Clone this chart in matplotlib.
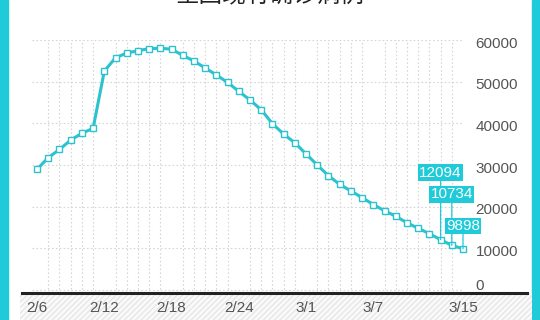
import matplotlib.pyplot as plt
import matplotlib.transforms as mtransforms
from matplotlib.patches import Rectangle
from matplotlib.lines import Line2D

plt.rcParams['font.family'] = ['Liberation Sans', 'Noto Sans CJK SC', 'DejaVu Sans']

# datos: casos existentes confirmados, 2/6 - 3/15
fechas = ["2/6", "2/7", "2/8", "2/9", "2/10", "2/11", "2/12", "2/13", "2/14", "2/15",
          "2/16", "2/17", "2/18", "2/19", "2/20", "2/21", "2/22", "2/23", "2/24", "2/25",
          "2/26", "2/27", "2/28", "2/29", "3/1", "3/2", "3/3", "3/4", "3/5", "3/6",
          "3/7", "3/8", "3/9", "3/10", "3/11", "3/12", "3/13", "3/14", "3/15"]
valores = [28985, 31774, 33738, 35982, 37626, 38800, 52526, 55748, 56873, 57416,
           57934, 58016, 57805, 56303, 54965, 53284, 51606, 49824, 47672, 45604,
           43258, 39919, 37414, 35329, 32652, 30004, 27433, 25352, 23784, 22177,
           20533, 19016, 17721, 16145, 14831, 13526, 12094, 10734, 9898]
etiquetas_x = ["2/6", "2/12", "2/18", "2/24", "3/1", "3/7", "3/15"]
ticks_y = [0, 10000, 20000, 30000, 40000, 50000, 60000]
destacados = ["3/13", "3/14", "3/15"]

W, H = 540, 320
cian = "#1fcbd9"
linea = "#2cc2ce"

fig = plt.figure(figsize=(W / 100, H / 100), dpi=100)

# marco cian a los lados
fig.patches.append(Rectangle((0, 0), 8 / W, 1, transform=fig.transFigure, color=cian, zorder=0))
fig.patches.append(Rectangle((532 / W, 0), 8 / W, 1, transform=fig.transFigure, color=cian, zorder=0))

# banda rayada bajo el eje
fig.patches.append(Rectangle((20 / W, 0), 512 / W, 27 / H, transform=fig.transFigure,
                             facecolor="#fafafa", edgecolor="#e6e6e6", hatch="//////",
                             linewidth=0, zorder=0))
fig.lines.append(Line2D([22 / W, 527 / W], [1 - 293 / H, 1 - 293 / H], transform=fig.transFigure,
                        color="#222222", linewidth=2.2, zorder=3))

ax = fig.add_axes([32 / W, 1 - 293 / H, (463 - 32) / W, (293 - 40) / H])
ax.set_zorder(2)
ax.patch.set_alpha(0)
x = list(range(len(fechas)))
ax.plot(x, valores, color=linea, linewidth=2.2, marker="s", markersize=4.5,
        markerfacecolor="white", markeredgecolor=linea, markeredgewidth=1, zorder=3,
        clip_on=False)

ax.set_xlim(-0.45, len(fechas) - 1)
ax.set_ylim(-700, 60000)

ax.set_xticks(x, minor=True)
ax.set_xticks([fechas.index(f) for f in etiquetas_x])
ax.set_xticklabels(etiquetas_x)
ax.set_yticks(ticks_y)
ax.set_yticklabels([str(v) for v in ticks_y])
ax.yaxis.tick_right()
ax.tick_params(axis="both", which="both", length=0, colors="#555555", labelsize=11)
ax.tick_params(axis="x", pad=6)
ax.tick_params(axis="y", pad=9)

# pequeños ajustes verticales de las etiquetas del eje y
for v, lab in zip(ticks_y, ax.get_yticklabels()):
    dy = 6 / 100 if v == 0 else -2 / 100
    lab.set_transform(lab.get_transform() + mtransforms.ScaledTranslation(0, dy, fig.dpi_scale_trans))

ax.grid(True, axis="x", which="minor", linestyle=(0, (1.5, 2)), color="#d6d6d6", linewidth=0.8)
ax.grid(True, axis="y", which="major", linestyle=(0, (1.5, 2)), color="#d6d6d6", linewidth=0.8)
ax.grid(False, axis="x", which="major")
for s in ax.spines.values():
    s.set_visible(False)

# etiquetas de los ultimos valores
desplazamientos = [67, 51, 23]
for f, dy in zip(destacados, desplazamientos):
    i = fechas.index(f)
    ax.annotate(str(valores[i]), xy=(i, valores[i]), xytext=(0, dy), textcoords="offset pixels",
                ha="center", va="center", color="white", fontsize=11,
                bbox=dict(boxstyle="square,pad=0.08", facecolor=cian, edgecolor="none"),
                arrowprops=dict(arrowstyle="-", color=cian, linewidth=0.9, shrinkA=0, shrinkB=0),
                zorder=4)

# titulo (recortado en la parte superior)
fig.text(0.5, 1 - 6 / H, "全国现有确诊病例", ha="center", va="bottom", fontsize=17,
         color="#222222", family=["Noto Sans CJK SC", "DejaVu Sans"])

fig.savefig("out.png", dpi=100)
